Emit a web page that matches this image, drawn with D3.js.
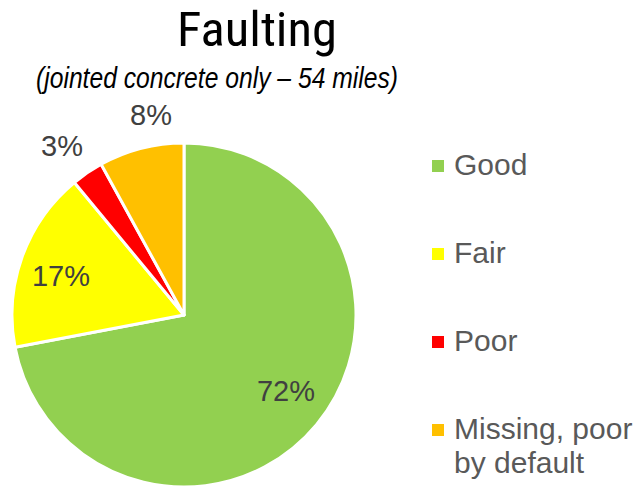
<!DOCTYPE html>
<html><head><meta charset="utf-8">
<script src="https://cdn.jsdelivr.net/npm/d3@7"></script>
<style>body{margin:0;background:#fff}</style>
</head><body>
<svg id="c" width="635" height="488"></svg>
<script>
const categories = ["Good", "Fair", "Poor", "Missing, poor by default"];
const legendLines = [["Good"], ["Fair"], ["Poor"], ["Missing, poor", "by default"]];
const values = [72, 17, 3, 8];
const colors = ["#92d050", "#ffff00", "#ff0000", "#ffc000"];
const title = "Faulting";
const subtitle = "(jointed concrete only \u2013 54 miles)";

const svg = d3.select("#c");
const cx = 184, cy = 315, r = 172;

svg.append("text").attr("x", 257).attr("y", 46).attr("text-anchor", "middle")
  .attr("font-family", "'Liberation Sans Narrow', 'Roboto Condensed', Arial Narrow, sans-serif")
  .attr("font-size", 49).attr("fill", "#000")
  .attr("textLength", 160).attr("lengthAdjust", "spacingAndGlyphs").text(title);
svg.append("text").attr("x", 217).attr("y", 88).attr("text-anchor", "middle")
  .attr("font-family", "'Liberation Sans Narrow', Arial Narrow, sans-serif")
  .attr("font-style", "italic").attr("font-size", 29).attr("fill", "#000")
  .attr("textLength", 362).attr("lengthAdjust", "spacingAndGlyphs").text(subtitle);

const pie = d3.pie().sort(null).value(d => d)(values);
const arc = d3.arc().innerRadius(0).outerRadius(r);
const g = svg.append("g").attr("transform", `translate(${cx},${cy})`);
g.selectAll("path").data(pie).join("path")
  .attr("d", arc).attr("fill", (d, i) => colors[i])
  .attr("stroke", "#fff").attr("stroke-width", 3).attr("stroke-linejoin", "round");

const labelPos = [[102, 78], [-123, -37], [-122, -167], [-33, -198]];
const fmt = d3.format(".0%");
g.selectAll("text.lbl").data(pie).join("text").attr("class", "lbl")
  .attr("x", (d, i) => labelPos[i][0]).attr("y", (d, i) => labelPos[i][1])
  .attr("text-anchor", "middle").attr("dominant-baseline", "middle")
  .attr("font-family", "'Liberation Sans', Arial, sans-serif").attr("font-size", 29)
  .attr("fill", "#404040").text(d => fmt(d.value / 100));

const leg = svg.append("g");
const ly = [164, 252, 340, 428];
legendLines.forEach((lines, i) => {
  leg.append("rect").attr("x", 432).attr("y", ly[i] - 4).attr("width", 12).attr("height", 12).attr("fill", colors[i]);
  const t = leg.append("text").attr("x", 454).attr("y", ly[i] + 11)
    .attr("font-family", "'Liberation Sans', Arial, sans-serif").attr("font-size", 30).attr("fill", "#595959");
  lines.forEach((ln, j) => t.append("tspan").attr("x", 454).attr("dy", j ? 34 : 0).text(ln));
});
</script>
</body></html>
